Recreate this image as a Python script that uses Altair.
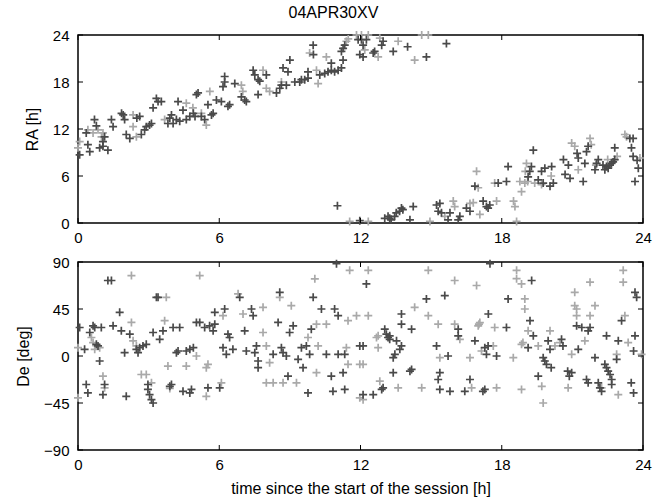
import altair as alt
import pandas as pd

# ---------------- data ----------------
ra_dark_t = [0.07, 0.5, 0.35, 0.42, 0.7, 0.78, 0.92, 1.06, 1.06, 1.27, 1.13, 1.42, 1.49, 1.85, 1.92, 1.98,
             2.05, 2.2, 2.5, 2.62, 2.69, 2.83, 2.9, 3.04, 3.12, 3.19, 3.33, 3.4, 3.54, 3.82, 3.9, 3.97, 4.04,
             4.18, 4.25, 4.32, 4.46, 4.6, 4.75, 4.9, 4.97, 5.03, 5.1, 5.24, 5.38, 5.52, 5.67, 5.74, 5.88, 6.09,
             6.16, 6.23, 6.23, 6.37, 6.44, 6.66, 6.94, 7.08, 7.15, 7.44, 7.51, 7.65, 7.72, 7.65, 8.0, 8.43, 8.57,
             8.64, 8.71, 8.85, 8.92, 9.0, 9.21, 9.42, 9.49, 9.63, 9.77, 9.77, 9.99, 10.0, 10.27, 10.48, 10.62,
             10.76, 10.9, 11.05, 11.19, 10.76, 11.19, 11.26, 11.33, 11.26, 11.9, 11.97, 11.02, 12.04, 12.11,
             12.25, 12.11, 12.54, 12.6, 12.9, 12.96, 13.39, 14.0, 14.8, 15.65, 11.97, 13.03, 13.17, 13.24, 13.3,
             13.52, 13.66, 13.74, 13.8, 13.45, 14.24, 14.1, 15.23, 15.37, 15.3, 15.44, 15.8, 15.72, 16.22, 16.15,
             16.5, 16.65, 17.21, 17.35, 17.42, 17.49, 16.86, 17.85, 18.2, 18.27, 19.12, 19.19, 19.26, 19.34,
             19.55, 19.76, 19.69, 19.83, 20.12, 20.05, 20.19, 20.62, 20.69, 20.83, 20.9, 21.2, 21.25, 21.46,
             21.53, 21.6, 21.67, 21.96, 22.03, 22.1, 22.3, 22.38, 22.45, 22.52, 22.59, 22.66, 22.73, 22.8, 22.8,
             23.44, 23.58, 23.51, 23.58, 23.66, 23.8, 23.75]
ra_dark_v = [8.7, 9.1, 11.5, 10.0, 13.2, 12.4, 9.6, 9.8, 10.4, 9.3, 11.0, 13.2, 12.3, 14.0, 13.8, 13.2,
             11.3, 10.8, 13.4, 13.6, 11.3, 11.9, 12.3, 12.5, 12.7, 14.7, 15.9, 15.5, 15.5, 12.7, 13.4, 13.8, 12.7,
             13.2, 15.5, 13.0, 14.4, 13.2, 13.6, 14.0, 13.6, 16.4, 16.6, 13.6, 13.2, 15.1, 13.8, 14.0, 15.7, 15.5,
             17.4, 18.0, 18.7, 14.9, 15.1, 17.8, 16.1, 15.7, 15.5, 19.5, 18.9, 18.3, 18.1, 16.4, 18.9, 16.6, 17.2,
             17.6, 19.8, 17.6, 19.3, 20.8, 18.0, 18.0, 18.3, 18.3, 18.5, 19.3, 22.7, 21.5, 18.9, 19.1, 19.3,
             19.5, 19.3, 19.5, 19.8, 20.4, 21.9, 22.3, 22.7, 20.8, 23.4, 21.5, 2.2, 23.4, 22.7,
             23.4, 21.2, 21.7, 21.9, 22.7, 23.2, 21.9, 22.5, 21.2, 22.9, 0.3, 0.6, 0.85, 0.6, 0.4,
             1.3, 1.5, 1.9, 1.7, 0.85, 2.1, 0.4, 2.3, 2.5, 1.5, 1.3, 1.3, 0.4, 0.85, 0.4,
             1.9, 1.5, 2.8, 2.1, 1.9, 2.3, 4.7, 5.1, 5.3, 7.2, 5.9, 6.6, 7.2, 9.3,
             5.5, 5.1, 6.6, 7.0, 7.2, 4.7, 5.1, 8.1, 6.2, 7.4, 5.7, 8.9, 8.3, 5.3,
             7.6, 9.1, 9.8, 6.8, 7.6, 8.1, 7.4, 6.8, 7.2, 7.0, 7.4, 7.6, 7.8, 8.1, 9.6,
             10.8, 10.8, 9.6, 8.5, 5.3, 7.0, 8.0]

ra_light_t = [0.0, 0.07, 0.42, 0.64, 0.85, 1.0, 1.06, 2.34, 2.34, 2.48, 3.68, 4.6, 4.88, 5.24, 5.45, 5.6,
              6.94, 7.0, 7.86, 8.0, 8.14, 8.64, 9.84, 10.13, 10.2, 10.55, 11.4, 11.48, 11.54, 11.83, 12.04,
              12.33, 12.18, 12.75, 12.82, 13.6, 14.3, 14.6, 14.88, 12.33, 14.95, 15.58, 15.94, 16.0, 16.65,
              16.79, 17.07, 16.93, 17.0, 17.7, 17.78, 18.5, 18.56, 18.63, 18.77, 18.84, 19.0, 19.05, 18.98,
              19.1, 19.4, 19.69, 20.1, 20.97, 21.1, 21.25, 21.75, 21.8, 22.0, 22.5, 22.9, 23.23, 23.3, 23.87]
ra_light_v = [9.6, 10.4, 11.9, 11.5, 11.9, 11.0, 11.5, 13.8, 12.3, 11.0, 13.2, 15.3, 14.7, 14.0, 12.5, 16.8,
              17.6, 16.8, 19.5, 17.2, 16.8, 18.0, 21.7, 19.5, 17.8, 21.2, 23.2, 23.5, 0.2, 24.0, 24.0,
              24.0, 22.1, 21.2, 23.6, 23.2, 20.8, 24.0, 24.0, 0.2, 0.2, 0.85, 2.8, 2.1, 2.5,
              2.6, 1.1, 6.6, 4.5, 5.1, 2.8, 2.8, 2.1, 0.2, 5.3, 4.0, 6.6, 7.6, 5.1,
              5.3, 5.1, 4.9, 6.0, 10.2, 9.8, 6.8, 10.8, 10.0, 7.4, 8.1, 8.5, 11.3, 11.0, 8.3]

de_dark_t = [0.07, 0.28, 0.35, 0.42, 0.5, 0.64, 0.71, 0.78, 0.85, 0.92, 0.99, 1.06, 1.13, 1.27, 1.42, 1.49,
             1.77, 1.84, 1.98, 2.05, 2.2, 2.48, 2.55, 2.62, 2.76, 2.9, 2.97, 2.97, 3.04, 3.12, 3.19, 3.19, 3.33,
             3.4, 3.47, 3.61, 3.9, 3.97, 4.04, 4.32, 4.18, 4.25, 4.46, 4.75, 4.82, 4.6, 4.75, 4.9, 5.03, 5.17,
             5.38, 5.59, 5.52, 5.74, 5.81, 5.81, 6.02, 6.16, 6.3, 6.23, 6.37, 6.44, 6.58, 6.87, 7.08, 7.15, 7.37,
             7.44, 7.51, 7.58, 7.65, 7.65, 8.29, 8.5, 8.57, 8.64, 8.71, 8.85, 8.92, 8.99, 9.14, 9.35, 9.49, 9.56,
             9.7, 9.77, 9.84, 9.91, 9.99, 10.34, 10.55, 10.76, 10.83, 10.9, 11.05, 11.05, 11.33, 11.26, 11.33,
             10.98, 11.97, 12.25, 12.11, 12.11, 12.54, 12.9, 12.96, 13.03, 13.1, 13.17, 13.24, 13.24, 13.39,
             13.46, 13.39, 13.53, 13.67, 13.74, 13.74, 13.74, 14.1, 14.17, 14.17, 14.8, 15.23, 15.3, 15.37,
             15.37, 15.8, 15.58, 15.72, 16.15, 16.15, 16.43, 16.65, 16.86, 17.2, 17.28, 17.28, 17.35, 17.42,
             17.43, 17.5, 17.78, 18.2, 18.27, 19.12, 19.2, 19.27, 19.34, 19.55, 19.76, 19.83, 19.9, 19.97,
             20.05, 20.1, 20.6, 20.54, 20.8, 20.87, 20.97, 21.25, 21.18, 21.4, 21.6, 21.67, 21.67, 21.75, 21.96,
             22.38, 22.45, 22.52, 22.6, 22.67, 22.67, 22.1, 22.17, 22.24, 22.45, 22.88, 22.95, 23.09, 23.5, 23.6,
             23.6, 23.66, 23.66, 23.73]
de_dark_v = [27.3, 6.4, -27.3, -35.4, 22.5, 28.9, 27.3, 11.2, 9.6, -4.8, 27.3, -37, -27.3, 72.3, 72.3, 28.9,
             41.8, 24.1, 3.2, -38.6, 20.9, 6.4, 3.2, 8.0, 9.6, 11.2, -27.3, -32, -37, -41.8, -45, 22.5, 56.2,
             56.2, 16.0, 24.1, -29, -27.3, 27.3, 27.3, 3.2, 4.8, -33.8, -35.4, -32, 4.8, 6.4, 8.0, 32.1, 32.1,
             27.3, 28.9, -30.5, 24.1, 30.5, 41.8, -30.5, 8.0, 1.6, 45, 20.9, 17.7, 6.4, 56.2, 24.1, 4.8, 45,
             38.6, 3.2, 9.6, -4.8, -11.2, 1.6, 32.1, 61, 8.0, 3.2, 0, -19.3, 22.5, 28.9, -3.2, 8, -11.2,
             9.6, -35.4, 1.6, 25.7, 56.2, 45, 1.6, -19.3, -33.8, 45, 38.6, 1.6, 1.6, -16, -32,
             88.4, 9.6, 69, 9.6, -37, -37, -32, -30.5, 25.7, 20.9, 17.7, 16, 19.3, -1.6,
             1.6, -16, 14.5, 6.4, 9.6, 40.2, 30.5, -14.5, -12.9, 25.7, 54.6, 9.6, -22.5, -16,
             -32, -33.8, 57.9, 0, 25.7, 19.3, -33.8, -22.5, 14.5, -33.8, -32, 8, 1.6, 9.6,
             40.2, 88.4, 0, 27.3, 54.6, 8, 33.8, 72.3, 19.3, -19.3, -1.6, -4.8, -8, 14.5,
             6.4, -11.2, 9.6, 16, -14.5, -19.3, -16, 6.4, 28.9, 27.3, -22.5, -25.7, 24.1, 27.3, -1.6,
             -8, -11.2, -14.5, -17.7, -22.5, -27.3, -25.7, -30.5, -33.8, 19.3, -3.2, 14.5, 33.8, -25.7, -35.4,
             4.8, 19.3, 61, 56.2]

de_light_t = [0.0, 0.0, 0.57, 0.64, 0.71, 0.92, 1.06, 1.13, 2.27, 2.27, 2.34, 2.48, 2.69, 2.9, 3.12, 3.68,
              3.75, 3.82, 3.9, 4.6, 5.03, 5.17, 5.45, 5.52, 5.45, 6.09, 6.16, 6.8, 7.01, 7.86, 7.86, 8.0, 8.14,
              8.0, 8.29, 8.57, 8.71, 9.06, 9.28, 9.77, 10.06, 10.13, 10.13, 10.2, 10.55, 11.4, 11.47, 11.47,
              11.54, 11.83, 11.97, 11.97, 12.33, 12.33, 12.11, 12.11, 12.68, 12.75, 12.75, 12.82, 13.6, 14.3,
              14.6, 14.88, 14.88, 15.3, 15.37, 16.0, 16.0, 16.22, 16.65, 16.72, 16.93, 17.0, 17.03, 17.07,
              17.14, 17.64, 17.7, 17.78, 18.49, 18.63, 18.63, 18.84, 18.98, 18.98, 18.84, 18.9, 18.84, 19.12,
              19.55, 19.7, 19.76, 20.05, 20.26, 20.47, 20.82, 20.97, 21.1, 21.1, 21.18, 21.18, 21.75, 21.53,
              21.75, 21.96, 22.24, 22.88, 22.95, 23.16, 23.16, 23.23, 23.37, 23.94]
de_light_v = [8, -40, 17.7, 12.9, 6.4, 8, -19.3, -30.5, 77, 32.1, 14.5, 9.6, -17.7, -17.7, -25.7, 33.8,
              56.2, -9.6, -31, -9.6, 0, 77, -11.2, -8, -38.6, -25.7, 38.6, 59.5, 40.2, 46.6, 22.5, 9.6, -6.4,
              -25.7, -25.7, 56.2, -25.7, 48.2, -25.7, 17.7, 73.9, 30.5, -16, 9.6, 30.5, 8, 33.8, -8,
              82, 38.6, -8, -40, 82, 38.6, -41.8, -8, 17.7, 19.3, 8, -24.1, -30.5, 46.6,
              -30.5, 82, 38.6, 30.5, -1.6, 72.3, 30.5, 16, -1.6, -30.5, 67.5, 28.9, 30.5, 32,
              4.8, 9.6, 27.3, -30.5, -1.6, 82, 74, 69, 54.6, 45, 11.2, 12.9, -32, 24.1,
              9.6, -29, -45, 24.1, 9.6, 12.9, -30.5, 1.6, 61, 48.2, 45, 38.6, 38.6, 14.5,
              70.7, 48.2, -30.5, 1.6, -37, 82, 70.7, 38.6, 12.9, 1.6]

x_ticks = [0, 6, 12, 18, 24]
ra_ticks = [0, 6, 12, 18, 24]
de_ticks = [-90, -45, 0, 45, 90]

# ---------------- style ----------------
W, H = 565, 188
TICK = 5
FONT = "Liberation Sans"
DARK = "#4a4a4a"
LIGHT = "#a9a9a9"
PLUS = "M-1,0L1,0M0,-1L0,1"


def panel(dt, dv, lt, lv, ydom, yticks, ytitle, xtitle):
    xs = alt.Scale(domain=[0, 24], nice=False, zero=False)
    ys = alt.Scale(domain=ydom, nice=False, zero=False)
    xaxis = alt.Axis(values=x_ticks, ticks=False, domain=False, grid=False, labelPadding=7,
                     labelFlush=False, labelOverlap=False, title=xtitle if xtitle else "",
                     titlePadding=8)
    yaxis = alt.Axis(values=yticks, ticks=False, domain=False, grid=False, labelPadding=9,
                     labelFlush=False, labelOverlap=False, title=ytitle, titlePadding=12)
    X = alt.X("t:Q", scale=xs, axis=xaxis)
    Y = alt.Y("v:Q", scale=ys, axis=yaxis)

    dark = pd.DataFrame({"t": dt, "v": dv})
    light = pd.DataFrame({"t": lt, "v": lv})
    pts_light = alt.Chart(light).mark_point(shape=PLUS, size=64, filled=False, strokeWidth=1.7,
                                            color=LIGHT, opacity=1).encode(x=X, y=Y)
    pts_dark = alt.Chart(dark).mark_point(shape=PLUS, size=64, filled=False, strokeWidth=1.7,
                                          color=DARK, opacity=1).encode(x=X, y=Y)

    xt = pd.DataFrame({"t": x_ticks})
    yt = pd.DataFrame({"v": yticks})
    tb = alt.Chart(xt).mark_rule(color="black", strokeWidth=1).encode(
        x=X, y=alt.value(H), y2=alt.value(H - TICK))
    tt = alt.Chart(xt).mark_rule(color="black", strokeWidth=1).encode(
        x=X, y=alt.value(0), y2=alt.value(TICK))
    tl = alt.Chart(yt).mark_rule(color="black", strokeWidth=1).encode(
        y=Y, x=alt.value(0), x2=alt.value(TICK))
    tr = alt.Chart(yt).mark_rule(color="black", strokeWidth=1).encode(
        y=Y, x=alt.value(W - TICK), x2=alt.value(W))
    return alt.layer(pts_light, pts_dark, tb, tt, tl, tr).properties(width=W, height=H)


top = panel(ra_dark_t, ra_dark_v, ra_light_t, ra_light_v, [0, 24], ra_ticks, "RA [h]", None)
bottom = panel(de_dark_t, de_dark_v, de_light_t, de_light_v, [-90, 90], de_ticks, "De [deg]",
               "time since the start of the session [h]")

chart = alt.vconcat(top, bottom, spacing=39, bounds="flush").properties(
    title=alt.TitleParams("04APR30XV", fontSize=16, font=FONT, fontWeight="normal", color="black",
                          anchor="middle", offset=6),
    padding={"left": 14, "top": 4, "right": 4, "bottom": 4},
    background="white",
).configure_view(stroke="black", strokeWidth=1.5).configure_axis(
    labelFont=FONT, titleFont=FONT, labelFontSize=15, titleFontSize=16, labelColor="black",
    titleColor="black", titleFontWeight="normal"
)

chart.save("out.html", embed_options={"renderer": "svg", "actions": False})
